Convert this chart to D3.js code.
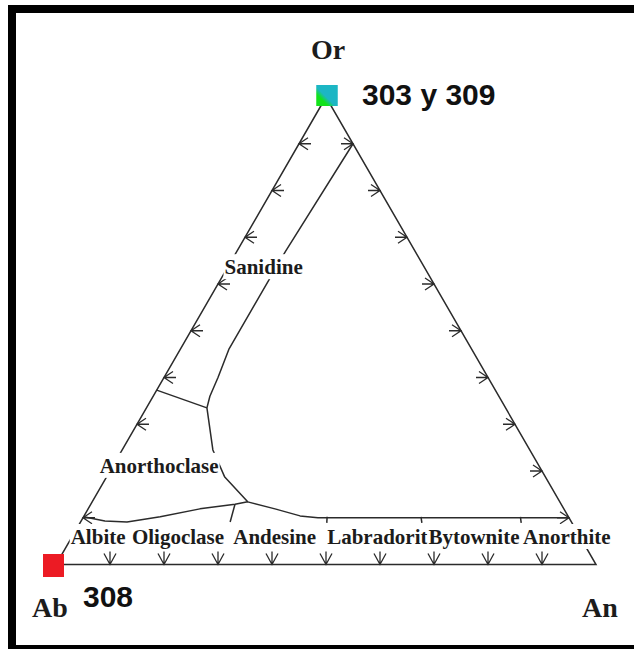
<!DOCTYPE html>
<html>
<head>
<meta charset="utf-8">
<script src="https://cdn.jsdelivr.net/npm/d3@7"></script>
<style>
  html, body { margin: 0; padding: 0; background: #fff; }
  svg { display: block; }
</style>
</head>
<body>
<svg id="chart" width="634" height="649"></svg>
<script>
// ---------- DATA (ternary compositions in %, stored as [Or, An]; Ab = 100 - Or - An) ----------
const vertexNames = ["Or", "Ab", "An"];
const sampleIds = ["303", "309", "308"];
const sampleOr = [100, 100, 0];
const sampleAn = [0, 0, 0];
const sampleLabels = ["303 y 309", "308"];
const tickValues = [10, 20, 30, 40, 50, 60, 70, 80, 90];

const plagioclaseNames = ["Albite", "Oligoclase", "Andesine", "Labradorit", "Bytownite", "Anorthite"];
const plagioclaseLabelAn = [7.8, 22.6, 40.5, 59.5, 77.4, 94.6];
const alkaliNames = ["Sanidine", "Anorthoclase"];
const alkaliLabelPos = [[62.1, 7.4], [19.6, 9.3]];

const sanidineBoundary = [[90, 10], [67, 9], [46, 9], [40, 10], [36, 10.5], [33.5, 11.2]];
const sanidineAnorthoclaseBoundary = [[37.3, 0], [33.5, 11.2]];
const anorthoclaseBoundary = [[33.5, 11.2], [24.5, 16.8], [18.7, 21.9], [13.4, 28.8]];
const plagioclaseBoundary = [[10.2, 0], [9.3, 4.4], [9.1, 8.6], [10.2, 14.2], [11.9, 20.7],
  [12.9, 26.7], [13.4, 28.8], [11.9, 34.6], [10.4, 40], [10, 43.5], [10, 90]];
const plagioclaseDividers = [
  [[12.9, 26.7], [9.1, 27.7]],
  [[10.2, 45.1], [8.9, 45.7]],
  [[10.2, 62.5], [8.9, 63.3]],
  [[10.2, 80.9], [8.9, 81.7]]
];

// ---------- SCALES ----------
const svg = d3.select("#chart");
const xs = d3.scaleLinear().domain([0, 100]).range([56, 596]);   // horizontal position along Ab-An
const ys = d3.scaleLinear().domain([0, 100]).range([564.5, 97]);  // Or content
const proj = ([or, an]) => [xs(an + or / 2), ys(or)];
const line = d3.line().x(d => proj(d)[0]).y(d => proj(d)[1]);

const ink = "#2b2b2b";
const lw = 1.5;

// Frame
svg.append("rect").attr("x", 12).attr("y", 9).attr("width", 640).attr("height", 640)
  .attr("fill", "none").attr("stroke", "#000").attr("stroke-width", 8);

const g = svg.append("g");

// Triangle
const corners = [[100, 0], [0, 0], [0, 100]]; // Or, Ab, An
g.append("path").attr("d", line(corners) + "Z")
  .attr("fill", "none").attr("stroke", ink).attr("stroke-width", lw);

// Boundaries
[sanidineBoundary, sanidineAnorthoclaseBoundary, anorthoclaseBoundary, plagioclaseBoundary, ...plagioclaseDividers]
  .forEach(b => g.append("path").attr("d", line(b))
    .attr("fill", "none").attr("stroke", ink).attr("stroke-width", lw).attr("stroke-linejoin", "round"));

// Arrow ticks
function arrow(p, dirX, dirY, stem, back, half) {
  const px = -dirY, py = dirX;
  return `M${p[0] + dirX * stem},${p[1] + dirY * stem}L${p[0]},${p[1]}` +
    `M${p[0] + dirX * back + px * half},${p[1] + dirY * back + py * half}L${p[0]},${p[1]}` +
    `L${p[0] + dirX * back - px * half},${p[1] + dirY * back - py * half}`;
}
const ticks = g.append("g").attr("fill", "none").attr("stroke", ink).attr("stroke-width", 1.3);
tickValues.forEach(v => {
  ticks.append("path").attr("d", arrow(proj([v, 0]), 1, 0, 12, 9, 6));        // Or-Ab side
  ticks.append("path").attr("d", arrow(proj([v, 100 - v]), -1, 0, 12, 9, 6)); // Or-An side
  ticks.append("path").attr("d", arrow(proj([0, v]), 0, -1, 13, 11, 6));      // Ab-An base
});

// Labels with white backgrounds
const labelFont = "'Liberation Serif', 'Times New Roman', serif";
function boxedText(x, y, txt, size) {
  const grp = g.append("g");
  const t = grp.append("text").attr("x", x).attr("y", y).attr("text-anchor", "middle")
    .attr("font-family", labelFont).attr("font-weight", "bold").attr("font-size", size)
    .attr("fill", "#1c1c1c").text(txt);
  const bb = t.node().getBBox();
  grp.insert("rect", "text").attr("x", bb.x - 1).attr("y", bb.y - 1)
    .attr("width", bb.width + 2).attr("height", bb.height + 1).attr("fill", "#fff");
}
plagioclaseNames.forEach((n, i) => boxedText(xs(plagioclaseLabelAn[i]), ys(0) - 20.5, n, 21));
alkaliNames.forEach((n, i) => {
  const p = proj(alkaliLabelPos[i]);
  boxedText(p[0], p[1], n, 21);
});

// Vertex labels
const vOr = proj([100, 0]), vAb = proj([0, 0]), vAn = proj([0, 100]);
svg.append("text").attr("x", vOr[0] + 2).attr("y", vOr[1] - 38).attr("text-anchor", "middle")
  .attr("font-family", labelFont).attr("font-weight", "bold").attr("font-size", 28).attr("fill", "#1c1c1c").text(vertexNames[0]);
svg.append("text").attr("x", vAb[0] - 24).attr("y", vAb[1] + 52).attr("text-anchor", "start")
  .attr("font-family", labelFont).attr("font-weight", "bold").attr("font-size", 28).attr("fill", "#1c1c1c").text(vertexNames[1]);
svg.append("text").attr("x", vAn[0] - 14).attr("y", vAn[1] + 52).attr("text-anchor", "start")
  .attr("font-family", labelFont).attr("font-weight", "bold").attr("font-size", 28).attr("fill", "#1c1c1c").text(vertexNames[2]);

// Sample markers
const defs = svg.append("defs");
const grad = defs.append("linearGradient").attr("id", "orGrad")
  .attr("x1", "1").attr("y1", "0").attr("x2", "0").attr("y2", "1");
grad.append("stop").attr("offset", "0.55").attr("stop-color", "#1cb6c4");
grad.append("stop").attr("offset", "0.72").attr("stop-color", "#12e21a");

const markerFill = ["url(#orGrad)", "url(#orGrad)", "#ec1b24"];
const ms = 21;
sampleIds.forEach((id, i) => {
  const p = proj([sampleOr[i], sampleAn[i]]);
  svg.append("rect").attr("x", p[0] - ms / 2 + (i === 2 ? -2.5 : 1)).attr("y", p[1] - ms / 2 + (i === 2 ? 0 : -1.5))
    .attr("width", ms).attr("height", ms + (i === 2 ? 2 : 0)).attr("fill", markerFill[i]);
});

// Sample labels
const sansFont = "'Liberation Sans', Arial, sans-serif";
svg.append("text").attr("x", vOr[0] + 36).attr("y", vOr[1] + 8)
  .attr("font-family", sansFont).attr("font-weight", "bold").attr("font-size", 30).attr("fill", "#111")
  .text(sampleLabels[0]);
svg.append("text").attr("x", vAb[0] + 27).attr("y", vAb[1] + 42.5)
  .attr("font-family", sansFont).attr("font-weight", "bold").attr("font-size", 30).attr("fill", "#111")
  .text(sampleLabels[1]);
</script>
</body>
</html>
